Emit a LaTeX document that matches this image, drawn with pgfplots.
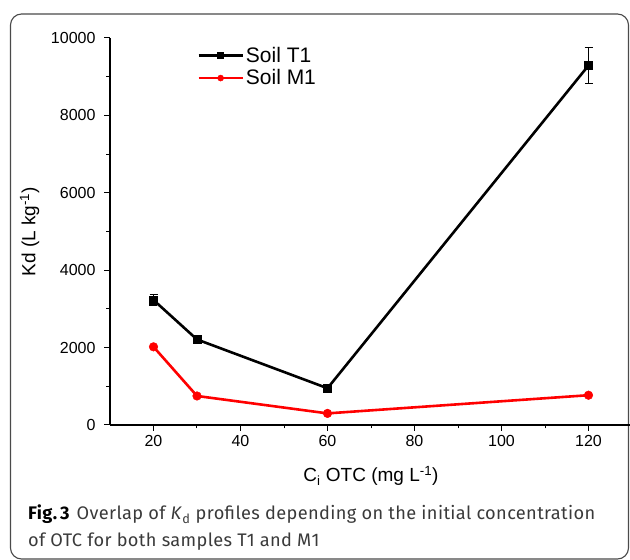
\documentclass[border=0pt]{standalone}
\usepackage{fontspec}
\setmainfont{Liberation Sans}
\newfontfamily\capfont[LetterSpace=2]{Fira Sans}
\usepackage{pgfplots}
\pgfplotsset{compat=1.18}

\definecolor{capgray}{HTML}{3A3A3A}
\definecolor{framegray}{HTML}{4A4A4A}

\begin{document}
\begin{tikzpicture}[x=1pt,y=1pt]
\useasboundingbox (0,0) rectangle (630,560);
\draw[framegray, line width=1.1pt, rounded corners=11pt] (10.5,1) rectangle (628.5,546);

\begin{axis}[
    at={(110pt,135pt)}, anchor=south west,
    scale only axis,
    width=522pt, height=387pt,
    xmin=10, xmax=130,
    ymin=0, ymax=10000,
    axis lines=left,
    axis line style={-, line width=1.1pt},
    tick align=outside,
    major tick length=6pt,
    minor tick length=3.5pt,
    every tick/.style={black, line width=1pt},
    xtick={20,40,...,120},
    ytick={0,2000,...,10000},
    minor x tick num=1,
    minor y tick num=1,
    scaled y ticks=false,
    /pgf/number format/1000 sep={},
    /pgf/number format/assume math mode=true,
    tick label style={font=\fontsize{16}{19}\selectfont},
    xticklabel style={yshift=-1pt},
    yticklabel style={xshift=-5pt},
    xlabel={C\textsubscript{i} OTC (mg L\textsuperscript{-1})},
    ylabel={Kd (L kg\textsuperscript{-1})},
    label style={font=\fontsize{19}{22}\selectfont},
    xlabel style={at={(axis description cs:0.5,-0.147)}, anchor=base},
    ylabel style={at={(axis description cs:-0.154,0.5)}, anchor=center},
    legend style={draw=none, fill=none, at={(axis description cs:0.165,0.985)},
        anchor=north west, font=\fontsize{21}{23}\selectfont,
        row sep=2pt, inner sep=1pt},
    legend cell align=left,
    legend image code/.code={
        \draw[mark repeat=2, mark phase=2, #1, mark size=3pt]
        plot coordinates {(0pt,0pt) (22pt,0pt) (44pt,0pt)};},
]
\addplot[black, line width=2.6pt, mark=square*, mark size=4pt,
    mark options={solid, line width=0.5pt},
    error bars/.cd, y dir=both, y explicit,
    error bar style={line width=0.8pt},
    error mark options={rotate=90, mark size=4pt, line width=0.8pt}]
    coordinates {
    (20,3230) +- (0,150)
    (30,2210) +- (0,60)
    (60,950)  +- (0,50)
    (120,9290) +- (0,460)
    };
\addlegendentry{Soil T1}

\addplot[red, line width=2.6pt, mark=*, mark size=4.3pt,
    mark options={solid, line width=0.5pt}]
    coordinates {
    (20,2020)
    (30,750)
    (60,300)
    (120,770)
    };
\addlegendentry{Soil M1}
\end{axis}

\node[anchor=base west, inner sep=0pt, text=capgray, font=\capfont\fontsize{18.2}{20}\selectfont]
    at (28,40) {\textbf{\color{black}Fig.\,3}\hspace{7pt}Overlap of \textit{K}\textsubscript{d} profiles depending on the initial concentration};
\node[anchor=base west, inner sep=0pt, text=capgray, font=\capfont\fontsize{18.2}{20}\selectfont]
    at (28,13) {of OTC for both samples T1 and M1};
\end{tikzpicture}
\end{document}
